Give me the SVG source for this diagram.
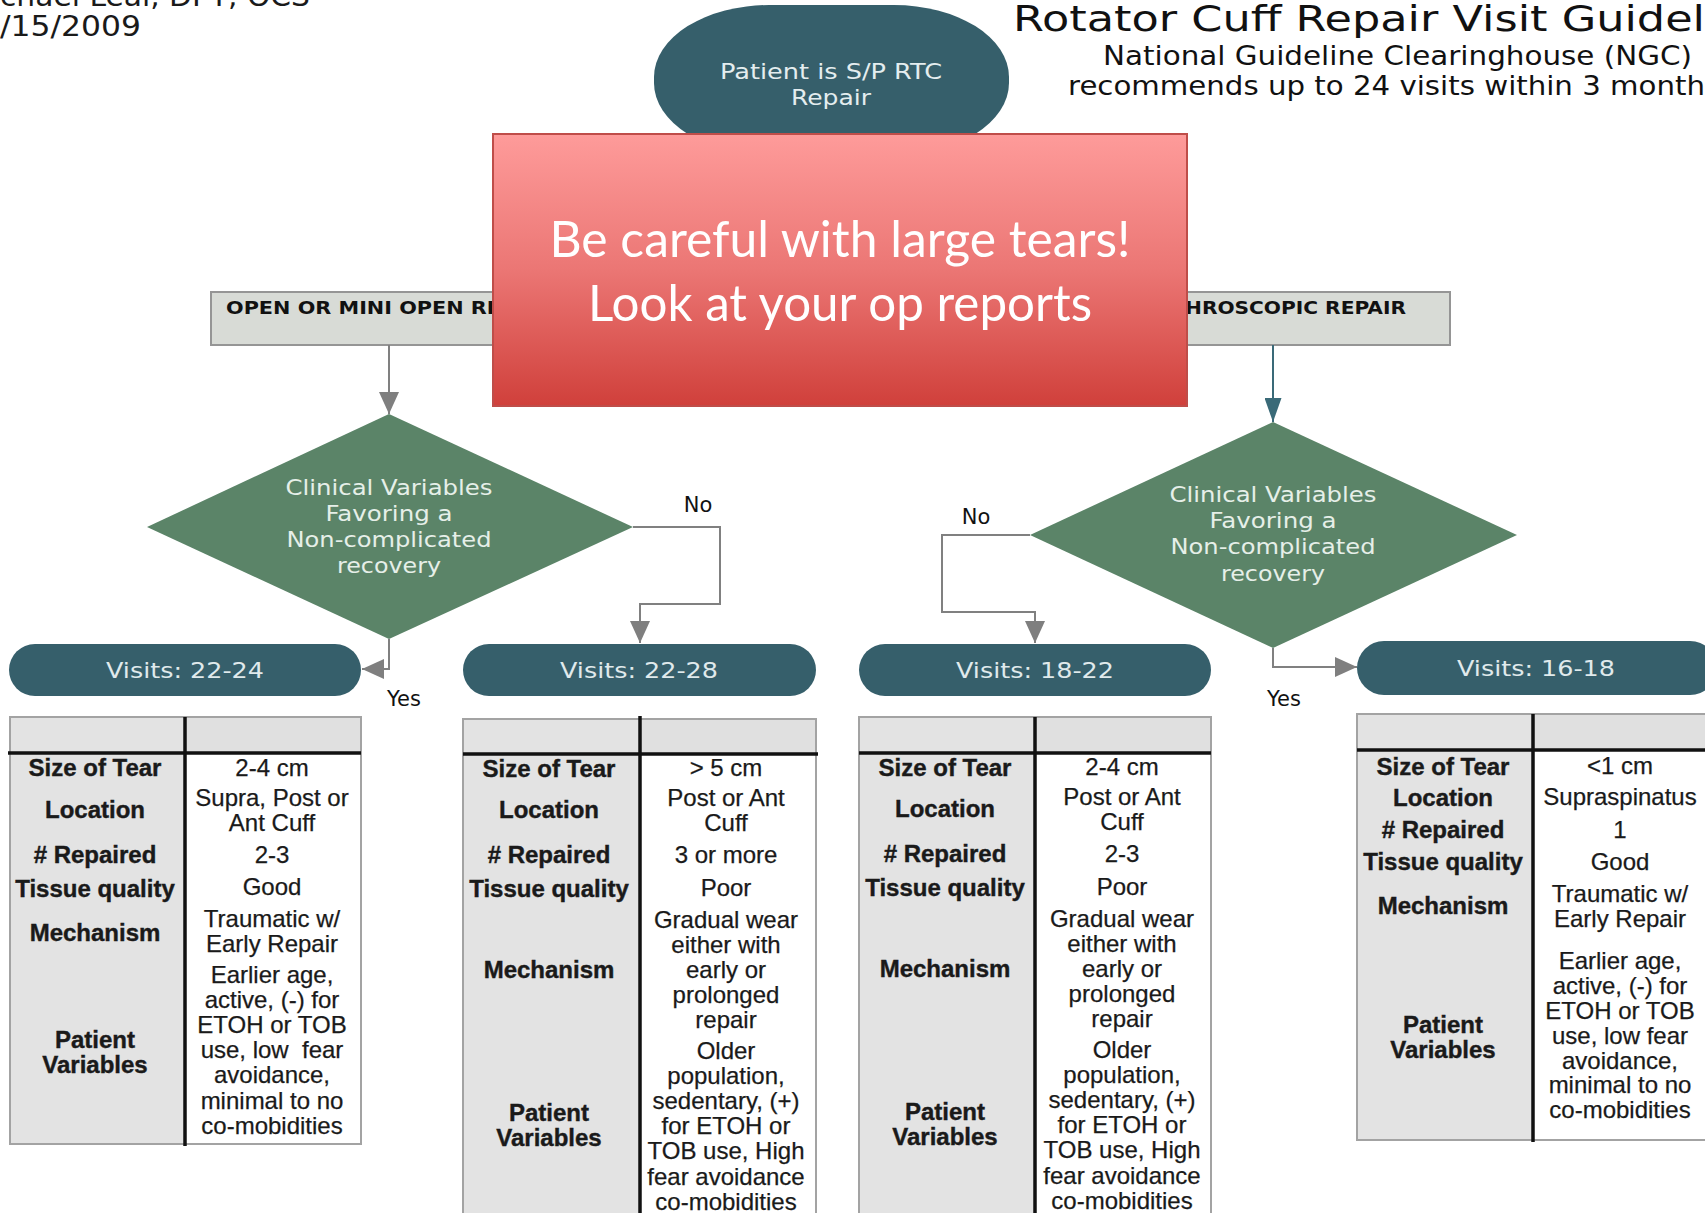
<svg xmlns="http://www.w3.org/2000/svg" width="1705" height="1213" viewBox="0 0 1705 1213">
<style>
.tah{font-family:"DejaVu Sans","Liberation Sans",sans-serif}
.hdr{font-family:"DejaVu Sans","Liberation Sans",sans-serif;fill:#111}
.oval{fill:#365f6b}
.ovt{font-family:"DejaVu Sans","Liberation Sans",sans-serif;font-size:21px;fill:#e4edef;text-anchor:middle}
.gbox{fill:#d8dbd6;stroke:#959595;stroke-width:2}
.gbt{font-family:"DejaVu Sans","Liberation Sans",sans-serif;font-size:17px;font-weight:bold;fill:#111}
.dia{fill:#5b8468}
.dt{font-family:"DejaVu Sans","Liberation Sans",sans-serif;font-size:21px;fill:#e6efe8;text-anchor:middle}
.pill{fill:#365f6b}
.pt{font-family:"DejaVu Sans","Liberation Sans",sans-serif;font-size:22px;fill:#e0eaec;text-anchor:middle}
.lbl{font-family:"DejaVu Sans","Liberation Sans",sans-serif;font-size:21px;fill:#111;text-anchor:middle}
.con{fill:none;stroke:#808080;stroke-width:2}
.conb{fill:none;stroke:#3a6a78;stroke-width:2}
.tl{fill:#e3e3e3}
.th{fill:#e0e0e0}
.tw{fill:#ffffff}
.tb{fill:none;stroke:#a3a3a3;stroke-width:2}
.tk{stroke:#111;stroke-width:3.5}
.k{font-family:"Liberation Sans",Arial,sans-serif;font-size:24px;font-weight:bold;fill:#1a1a1a;stroke:#1a1a1a;stroke-width:0.4;text-anchor:middle}
.v{font-family:"Liberation Sans",Arial,sans-serif;font-size:24px;fill:#1a1a1a;stroke:#1a1a1a;stroke-width:0.25;text-anchor:middle}
.warn{font-family:"Lato","Open Sans",sans-serif;font-size:50px;fill:#ffffff;text-anchor:middle}
</style>
<defs>
<linearGradient id="redg" x1="0" y1="0" x2="0" y2="1">
<stop offset="0" stop-color="#fe9b9a"/>
<stop offset="0.5" stop-color="#eb7674"/>
<stop offset="1" stop-color="#d0403b"/>
</linearGradient>
<marker id="ag" viewBox="0 0 20 20" refX="20" refY="10" markerWidth="22" markerHeight="20" markerUnits="userSpaceOnUse" orient="auto" preserveAspectRatio="none">
<path d="M0,0 L20,10 L0,20 z" fill="#7f7f7f"/>
</marker>
<marker id="ab" viewBox="0 0 20 20" refX="20" refY="10" markerWidth="24" markerHeight="17" markerUnits="userSpaceOnUse" orient="auto" preserveAspectRatio="none">
<path d="M0,0 L20,10 L0,20 z" fill="#3a6a78"/>
</marker>
</defs>
<rect width="1705" height="1213" fill="#ffffff"/>

<g id="author">
<text class="tah" x="0" y="6" font-size="28" fill="#1a1a1a" textLength="310" lengthAdjust="spacingAndGlyphs">chael Leal, DPT, OCS</text>
<text class="tah" x="0" y="36" font-size="28" fill="#1a1a1a" textLength="141" lengthAdjust="spacingAndGlyphs">/15/2009</text>
</g>

<g id="title">
<text class="hdr" x="1013" y="31" font-size="36" textLength="692" lengthAdjust="spacingAndGlyphs">Rotator Cuff Repair Visit Guidel</text>
<text class="hdr" x="1103" y="65" font-size="27" textLength="589" lengthAdjust="spacingAndGlyphs">National Guideline Clearinghouse (NGC)</text>
<text class="hdr" x="1068" y="95" font-size="27" textLength="637" lengthAdjust="spacingAndGlyphs">recommends up to 24 visits within 3 month</text>
</g>

<g id="start">
<rect class="oval" x="654" y="5" width="355" height="150" rx="115" ry="72"/>
<text class="ovt" x="831" y="79" textLength="222" lengthAdjust="spacingAndGlyphs">Patient is S/P RTC</text>
<text class="ovt" x="831" y="105" textLength="80" lengthAdjust="spacingAndGlyphs">Repair</text>
</g>

<g id="open-repair">
<rect class="gbox" x="211" y="292" width="300" height="53"/>
<text class="gbt" x="226" y="314" textLength="275" lengthAdjust="spacingAndGlyphs">OPEN OR MINI OPEN  RE</text>
</g>

<g id="arthro-repair">
<rect class="gbox" x="1150" y="292" width="300" height="53"/>
<text class="gbt" x="1185" y="314" textLength="221" lengthAdjust="spacingAndGlyphs">HROSCOPIC REPAIR</text>
</g>

<g id="warning">
<rect x="493" y="134" width="694" height="272" fill="url(#redg)" stroke="#bf4d49" stroke-width="2"/>
<text class="warn" x="840" y="257" textLength="581" lengthAdjust="spacingAndGlyphs">Be careful with large tears!</text>
<text class="warn" x="840" y="321" textLength="504" lengthAdjust="spacingAndGlyphs">Look at your op reports</text>
</g>

<g id="connectors">
<path class="con" d="M389,345 L389,414" marker-end="url(#ag)"/>
<path class="conb" d="M1273,345 L1273,422" marker-end="url(#ab)"/>
<path class="con" d="M633,527 L720,527 L720,604 L640,604 L640,643" marker-end="url(#ag)"/>
<path class="con" d="M389,639 L389,669 L362,669" marker-end="url(#ag)"/>
<path class="con" d="M1030,535 L942,535 L942,612 L1035,612 L1035,643" marker-end="url(#ag)"/>
<path class="con" d="M1273,648 L1273,667 L1357,667" marker-end="url(#ag)"/>
<text class="lbl" x="698" y="512">No</text>
<text class="lbl" x="404" y="706">Yes</text>
<text class="lbl" x="976" y="524">No</text>
<text class="lbl" x="1284" y="706">Yes</text>
</g>

<g id="decision-left">
<polygon class="dia" points="389,414 633,527 389,639 147,527"/>
<text class="dt" x="389" y="495" textLength="207" lengthAdjust="spacingAndGlyphs">Clinical Variables</text>
<text class="dt" x="389" y="521" textLength="127" lengthAdjust="spacingAndGlyphs">Favoring a</text>
<text class="dt" x="389" y="547" textLength="205" lengthAdjust="spacingAndGlyphs">Non-complicated</text>
<text class="dt" x="389" y="573" textLength="104" lengthAdjust="spacingAndGlyphs">recovery</text>
</g>

<g id="decision-right">
<polygon class="dia" points="1273,422 1517,535 1273,648 1030,535"/>
<text class="dt" x="1273" y="502" textLength="207" lengthAdjust="spacingAndGlyphs">Clinical Variables</text>
<text class="dt" x="1273" y="528" textLength="127" lengthAdjust="spacingAndGlyphs">Favoring a</text>
<text class="dt" x="1273" y="554" textLength="205" lengthAdjust="spacingAndGlyphs">Non-complicated</text>
<text class="dt" x="1273" y="581" textLength="104" lengthAdjust="spacingAndGlyphs">recovery</text>
</g>

<g id="visits-22-24">
<rect class="pill" x="9" y="644" width="352" height="52" rx="26"/>
<text class="pt" x="185" y="678" textLength="158" lengthAdjust="spacingAndGlyphs">Visits: 22-24</text>
</g>
<g id="visits-22-28">
<rect class="pill" x="463" y="644" width="353" height="52" rx="26"/>
<text class="pt" x="639" y="678" textLength="158" lengthAdjust="spacingAndGlyphs">Visits: 22-28</text>
</g>
<g id="visits-18-22">
<rect class="pill" x="859" y="644" width="352" height="52" rx="26"/>
<text class="pt" x="1035" y="678" textLength="158" lengthAdjust="spacingAndGlyphs">Visits: 18-22</text>
</g>
<g id="visits-16-18">
<rect class="pill" x="1357" y="641" width="360" height="54" rx="27"/>
<text class="pt" x="1536" y="676" textLength="158" lengthAdjust="spacingAndGlyphs">Visits: 16-18</text>
</g>

<g id="table-open-good">
<rect class="tl" x="10" y="717" width="175" height="427"/>
<rect class="tw" x="185" y="753" width="176" height="391"/>
<rect class="th" x="185" y="717" width="176" height="36"/>
<rect class="tb" x="10" y="717" width="351" height="427"/>
<line class="tk" x1="8" y1="753" x2="361" y2="753"/>
<line class="tk" x1="185" y1="717" x2="185" y2="1146"/>
<text class="k" x="95" y="776">Size of Tear</text>
<text class="k" x="95" y="818">Location</text>
<text class="k" x="95" y="863"># Repaired</text>
<text class="k" x="95" y="897">Tissue quality</text>
<text class="k" x="95" y="941">Mechanism</text>
<text class="k" x="95" y="1048">Patient</text>
<text class="k" x="95" y="1073">Variables</text>
<text class="v" x="272" y="776">2-4 cm</text>
<text class="v" x="272" y="806">Supra, Post or</text>
<text class="v" x="272" y="831">Ant Cuff</text>
<text class="v" x="272" y="863">2-3</text>
<text class="v" x="272" y="895">Good</text>
<text class="v" x="272" y="927">Traumatic w/</text>
<text class="v" x="272" y="952">Early Repair</text>
<text class="v" x="272" y="983">Earlier age,</text>
<text class="v" x="272" y="1008">active, (-) for</text>
<text class="v" x="272" y="1033">ETOH or TOB</text>
<text class="v" x="272" y="1058" xml:space="preserve">use, low  fear</text>
<text class="v" x="272" y="1083">avoidance,</text>
<text class="v" x="272" y="1109">minimal to no</text>
<text class="v" x="272" y="1134">co-mobidities</text>
</g>

<g id="table-open-poor">
<rect class="tl" x="463" y="719" width="177" height="500"/>
<rect class="tw" x="640" y="754" width="176" height="465"/>
<rect class="th" x="640" y="719" width="176" height="35"/>
<rect class="tb" x="463" y="719" width="353" height="500"/>
<line class="tk" x1="463" y1="754" x2="818" y2="754"/>
<line class="tk" x1="640" y1="716" x2="640" y2="1213"/>
<text class="k" x="549" y="777">Size of Tear</text>
<text class="k" x="549" y="818">Location</text>
<text class="k" x="549" y="863"># Repaired</text>
<text class="k" x="549" y="897">Tissue quality</text>
<text class="k" x="549" y="978">Mechanism</text>
<text class="k" x="549" y="1121">Patient</text>
<text class="k" x="549" y="1146">Variables</text>
<text class="v" x="726" y="776">&gt; 5 cm</text>
<text class="v" x="726" y="806">Post or Ant</text>
<text class="v" x="726" y="831">Cuff</text>
<text class="v" x="726" y="863">3 or more</text>
<text class="v" x="726" y="896">Poor</text>
<text class="v" x="726" y="928">Gradual wear</text>
<text class="v" x="726" y="953">either with</text>
<text class="v" x="726" y="978">early or</text>
<text class="v" x="726" y="1003">prolonged</text>
<text class="v" x="726" y="1028">repair</text>
<text class="v" x="726" y="1059">Older</text>
<text class="v" x="726" y="1084">population,</text>
<text class="v" x="726" y="1109">sedentary, (+)</text>
<text class="v" x="726" y="1134">for ETOH or</text>
<text class="v" x="726" y="1159">TOB use, High</text>
<text class="v" x="726" y="1185">fear avoidance</text>
<text class="v" x="726" y="1210">co-mobidities</text>
</g>

<g id="table-arthro-poor">
<rect class="tl" x="859" y="717" width="176" height="500"/>
<rect class="tw" x="1035" y="753" width="176" height="464"/>
<rect class="th" x="1035" y="717" width="176" height="36"/>
<rect class="tb" x="859" y="717" width="352" height="500"/>
<line class="tk" x1="859" y1="753" x2="1211" y2="753"/>
<line class="tk" x1="1035" y1="717" x2="1035" y2="1213"/>
<text class="k" x="945" y="776">Size of Tear</text>
<text class="k" x="945" y="817">Location</text>
<text class="k" x="945" y="862"># Repaired</text>
<text class="k" x="945" y="896">Tissue quality</text>
<text class="k" x="945" y="977">Mechanism</text>
<text class="k" x="945" y="1120">Patient</text>
<text class="k" x="945" y="1145">Variables</text>
<text class="v" x="1122" y="775">2-4 cm</text>
<text class="v" x="1122" y="805">Post or Ant</text>
<text class="v" x="1122" y="830">Cuff</text>
<text class="v" x="1122" y="862">2-3</text>
<text class="v" x="1122" y="895">Poor</text>
<text class="v" x="1122" y="927">Gradual wear</text>
<text class="v" x="1122" y="952">either with</text>
<text class="v" x="1122" y="977">early or</text>
<text class="v" x="1122" y="1002">prolonged</text>
<text class="v" x="1122" y="1027">repair</text>
<text class="v" x="1122" y="1058">Older</text>
<text class="v" x="1122" y="1083">population,</text>
<text class="v" x="1122" y="1108">sedentary, (+)</text>
<text class="v" x="1122" y="1133">for ETOH or</text>
<text class="v" x="1122" y="1158">TOB use, High</text>
<text class="v" x="1122" y="1184">fear avoidance</text>
<text class="v" x="1122" y="1209">co-mobidities</text>
</g>

<g id="table-arthro-good">
<rect class="tl" x="1357" y="714" width="176" height="426"/>
<rect class="tw" x="1533" y="750" width="180" height="390"/>
<rect class="th" x="1533" y="714" width="180" height="36"/>
<rect class="tb" x="1357" y="714" width="360" height="426"/>
<line class="tk" x1="1357" y1="750" x2="1705" y2="750"/>
<line class="tk" x1="1533" y1="714" x2="1533" y2="1142"/>
<text class="k" x="1443" y="775">Size of Tear</text>
<text class="k" x="1443" y="806">Location</text>
<text class="k" x="1443" y="838"># Repaired</text>
<text class="k" x="1443" y="870">Tissue quality</text>
<text class="k" x="1443" y="914">Mechanism</text>
<text class="k" x="1443" y="1033">Patient</text>
<text class="k" x="1443" y="1058">Variables</text>
<text class="v" x="1620" y="774">&lt;1 cm</text>
<text class="v" x="1620" y="805">Supraspinatus</text>
<text class="v" x="1620" y="838">1</text>
<text class="v" x="1620" y="870">Good</text>
<text class="v" x="1620" y="902">Traumatic w/</text>
<text class="v" x="1620" y="927">Early Repair</text>
<text class="v" x="1620" y="969">Earlier age,</text>
<text class="v" x="1620" y="994">active, (-) for</text>
<text class="v" x="1620" y="1019">ETOH or TOB</text>
<text class="v" x="1620" y="1044">use, low fear</text>
<text class="v" x="1620" y="1069">avoidance,</text>
<text class="v" x="1620" y="1093">minimal to no</text>
<text class="v" x="1620" y="1118">co-mobidities</text>
</g>
</svg>
